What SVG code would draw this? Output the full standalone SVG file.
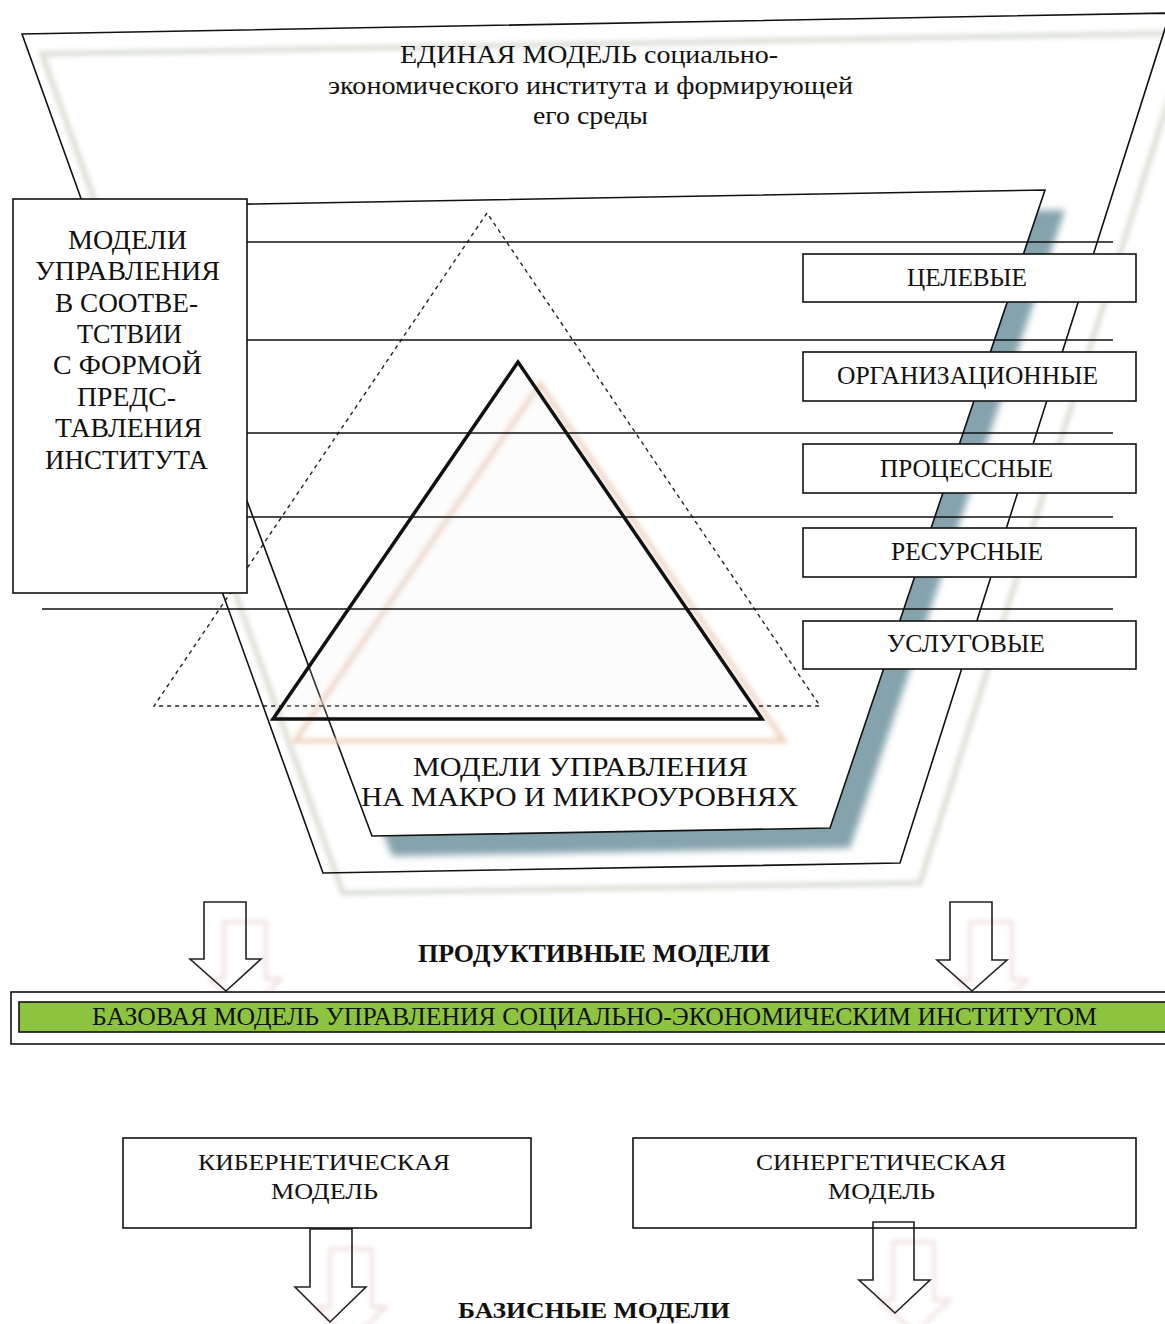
<svg xmlns="http://www.w3.org/2000/svg" width="1165" height="1324" viewBox="0 0 1165 1324">
  <defs>
    <filter id="soft" x="-10%" y="-10%" width="120%" height="120%">
      <feGaussianBlur stdDeviation="2.5"/>
    </filter>
    <filter id="softer" x="-10%" y="-10%" width="120%" height="120%">
      <feGaussianBlur stdDeviation="3.5"/>
    </filter>
  </defs>
  <style>
    text { font-family: "Liberation Serif", "Times New Roman", serif; fill: #111; }
    .ln { stroke: #111; stroke-width: 1.6; fill: none; }
    .box { fill: #fff; stroke: #111; stroke-width: 1.6; }
    .arrow { fill: none; stroke: #222; stroke-width: 1.6; }
    .arrow-sh { fill: none; stroke: #ecd3d3; stroke-width: 2.5; filter: url(#soft); }
    .b { font-weight: bold; }
  </style>

  <rect width="1165" height="1324" fill="#fff"/>

  <!-- outer frame: unified model of the institute and its environment -->
  <g id="outer-frame">
    <polygon points="42,54 1190,33 920,883 343,893" fill="none" stroke="#d8ddd1" stroke-width="5" filter="url(#soft)"/>
    <polygon class="ln" points="22,34 1170,13 900,863 323,873"/>
  </g>

  <!-- inner frame: macro and micro level management models -->
  <g id="inner-frame">
    <polygon points="157,226 1065,210 850,848 392,856" fill="#85a3ad" filter="url(#softer)"/>
    <polygon points="137,206 1045,190 830,828 372,836" fill="#fff" stroke="#111" stroke-width="1.6"/>
  </g>

  <!-- pyramids -->
  <g id="pyramid">
    <polygon points="540,384 295,741 784,741" fill="none" stroke="#efd4c2" stroke-width="5" filter="url(#soft)"/>
    <polygon points="487,213 154,706 820,706" fill="none" stroke="#222" stroke-width="1.4" stroke-dasharray="4 4"/>
    <polygon points="518,362 273,719 762,719" fill="#e8e8e8" fill-opacity="0.15" stroke="#111" stroke-width="3.5" stroke-linejoin="miter"/>
  </g>

  <!-- level separators -->
  <g id="connectors">
    <line class="ln" x1="247" y1="242" x2="1113" y2="242"/>
    <line class="ln" x1="247" y1="340" x2="1113" y2="340"/>
    <line class="ln" x1="247" y1="433" x2="1113" y2="433"/>
    <line class="ln" x1="247" y1="517" x2="1113" y2="517"/>
    <line class="ln" x1="42" y1="609" x2="1113" y2="609"/>
  </g>

  <g id="title">
    <text x="400" y="63" font-size="26" textLength="378" lengthAdjust="spacingAndGlyphs">ЕДИНАЯ МОДЕЛЬ социально-</text>
    <text x="328" y="94" font-size="26" textLength="525" lengthAdjust="spacingAndGlyphs">экономического института и формирующей</text>
    <text x="533" y="124" font-size="26" textLength="115" lengthAdjust="spacingAndGlyphs">его среды</text>
  </g>

  <g id="form-box">
    <rect class="box" x="13" y="199" width="234" height="394"/>
    <text x="68" y="249" font-size="28" textLength="119" lengthAdjust="spacingAndGlyphs">МОДЕЛИ</text>
    <text x="35" y="280" font-size="28" textLength="185" lengthAdjust="spacingAndGlyphs">УПРАВЛЕНИЯ</text>
    <text x="55" y="312" font-size="28" textLength="143" lengthAdjust="spacingAndGlyphs">В СООТВЕ-</text>
    <text x="77" y="343" font-size="28" textLength="105" lengthAdjust="spacingAndGlyphs">ТСТВИИ</text>
    <text x="53" y="374" font-size="28" textLength="149" lengthAdjust="spacingAndGlyphs">С ФОРМОЙ</text>
    <text x="77" y="406" font-size="28" textLength="99" lengthAdjust="spacingAndGlyphs">ПРЕДС-</text>
    <text x="55" y="437" font-size="28" textLength="147" lengthAdjust="spacingAndGlyphs">ТАВЛЕНИЯ</text>
    <text x="45" y="469" font-size="28" textLength="163" lengthAdjust="spacingAndGlyphs">ИНСТИТУТА</text>
  </g>

  <g id="target">
    <rect class="box" x="803" y="254" width="333" height="48"/>
    <text x="907" y="286" font-size="25" textLength="120" lengthAdjust="spacingAndGlyphs">ЦЕЛЕВЫЕ</text>
  </g>
  <g id="organizational">
    <rect class="box" x="803" y="352" width="333" height="49"/>
    <text x="837" y="384" font-size="25" textLength="261" lengthAdjust="spacingAndGlyphs">ОРГАНИЗАЦИОННЫЕ</text>
  </g>
  <g id="process">
    <rect class="box" x="803" y="444" width="333" height="49"/>
    <text x="880" y="477" font-size="25" textLength="173" lengthAdjust="spacingAndGlyphs">ПРОЦЕССНЫЕ</text>
  </g>
  <g id="resource">
    <rect class="box" x="803" y="528" width="333" height="49"/>
    <text x="891" y="560" font-size="25" textLength="152" lengthAdjust="spacingAndGlyphs">РЕСУРСНЫЕ</text>
  </g>
  <g id="service">
    <rect class="box" x="803" y="621" width="333" height="48"/>
    <text x="887" y="652" font-size="25" textLength="158" lengthAdjust="spacingAndGlyphs">УСЛУГОВЫЕ</text>
  </g>

  <g id="levels-label">
    <text x="413" y="776" font-size="28" textLength="335" lengthAdjust="spacingAndGlyphs">МОДЕЛИ УПРАВЛЕНИЯ</text>
    <text x="361" y="806" font-size="28" textLength="437" lengthAdjust="spacingAndGlyphs">НА МАКРО И МИКРОУРОВНЯХ</text>
  </g>

  <!-- block arrows -->
  <g id="arrows">
    <path class="arrow-sh" d="M224,922 H266 V979 H281 L246,1011 L210,979 H224 Z"/>
    <path class="arrow" d="M204,902 H246 V959 H261 L226,991 L190,959 H204 Z"/>
    <path class="arrow-sh" d="M970,922 H1012 V980 H1027 L992,1011 L957,980 H970 Z"/>
    <path class="arrow" d="M950,902 H992 V960 H1007 L972,991 L937,960 H950 Z"/>
    <path class="arrow-sh" d="M330,1249 H372 V1307 H386 L350,1342 L315,1307 H330 Z"/>
    <path class="arrow" d="M310,1229 H352 V1287 H366 L330,1322 L295,1287 H310 Z"/>
    <path class="arrow-sh" d="M893,1242 H934 V1300 H950 L915,1333 L879,1300 H893 Z"/>
    <path class="arrow" d="M873,1222 H914 V1280 H930 L895,1313 L859,1280 H873 Z"/>
  </g>

  <g id="productive-label">
    <text class="b" x="418" y="962" font-size="25" textLength="352" lengthAdjust="spacingAndGlyphs">ПРОДУКТИВНЫЕ МОДЕЛИ</text>
  </g>

  <g id="base-model">
    <rect x="11" y="992" width="1170" height="52" fill="#fff" stroke="#111" stroke-width="1.6"/>
    <rect x="19" y="1002" width="1160" height="30" fill="#8cc43f" stroke="#111" stroke-width="1.6"/>
    <text x="92" y="1025" font-size="26" textLength="1005" lengthAdjust="spacingAndGlyphs">БАЗОВАЯ МОДЕЛЬ УПРАВЛЕНИЯ СОЦИАЛЬНО-ЭКОНОМИЧЕСКИМ ИНСТИТУТОМ</text>
  </g>

  <g id="cybernetic">
    <rect class="box" x="123" y="1138" width="408" height="90"/>
    <text x="198" y="1170" font-size="24" textLength="252" lengthAdjust="spacingAndGlyphs">КИБЕРНЕТИЧЕСКАЯ</text>
    <text x="271" y="1199" font-size="24" textLength="107" lengthAdjust="spacingAndGlyphs">МОДЕЛЬ</text>
  </g>
  <g id="synergetic">
    <rect class="box" x="633" y="1138" width="503" height="90"/>
    <text x="756" y="1170" font-size="24" textLength="250" lengthAdjust="spacingAndGlyphs">СИНЕРГЕТИЧЕСКАЯ</text>
    <text x="828" y="1199" font-size="24" textLength="107" lengthAdjust="spacingAndGlyphs">МОДЕЛЬ</text>
  </g>

  <!-- shaft of the right lower arrow overlaps its box -->
  <path class="arrow" d="M873,1228 V1222 H914 V1228"/>

  <g id="basic-label">
    <text class="b" x="458" y="1318" font-size="24" textLength="272" lengthAdjust="spacingAndGlyphs">БАЗИСНЫЕ МОДЕЛИ</text>
  </g>
</svg>
